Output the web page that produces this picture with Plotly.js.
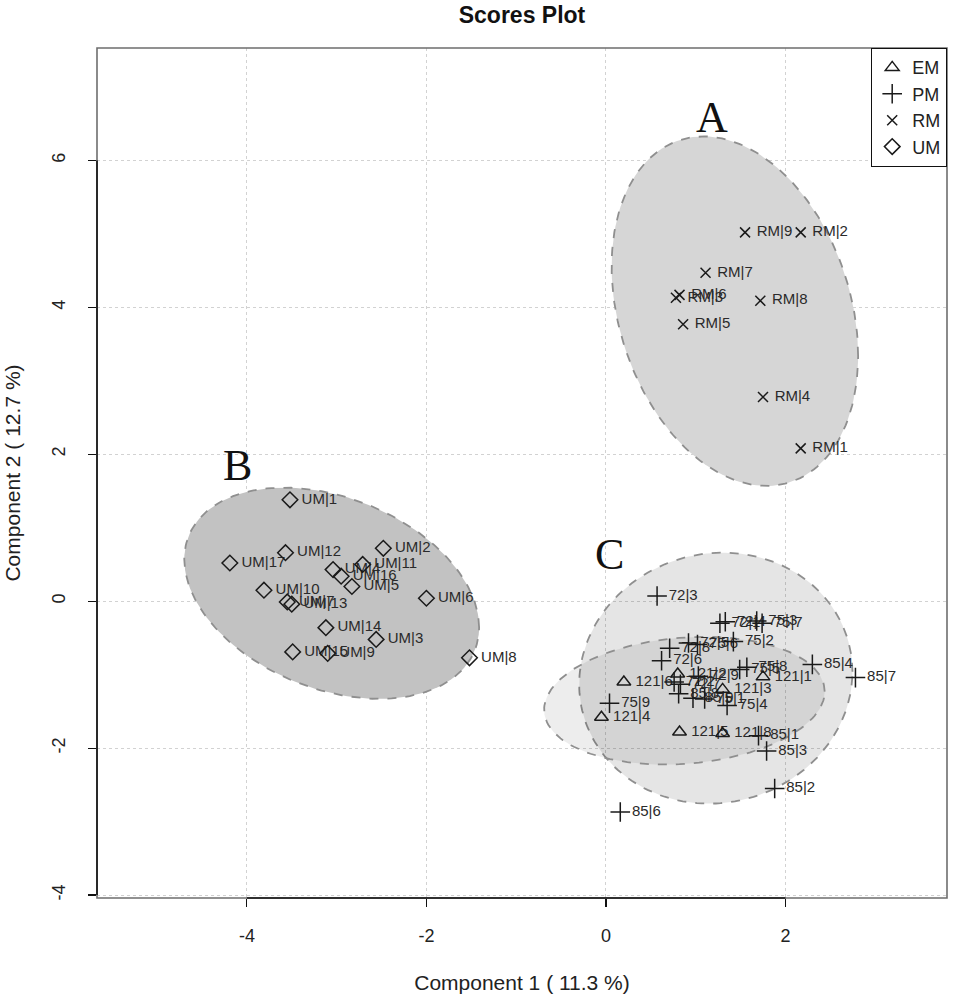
<!DOCTYPE html>
<html>
<head>
<meta charset="utf-8">
<script src="https://cdn.plot.ly/plotly-3.0.1.min.js"></script>
<style>
  html, body { margin: 0; padding: 0; background: #ffffff; }
  #chart { width: 955px; height: 1000px; }
</style>
</head>
<body>
<div id="chart"></div>
<script>
// PLS-DA scores, component 1 vs component 2, one array set per group.
const emLabels = ["121|1", "121|2", "121|3", "121|4", "121|5", "121|6", "121|8"];
const emX = [1.75, 0.80, 1.30, -0.05, 0.82, 0.20, 1.30];
const emY = [-1.03, -0.99, -1.20, -1.58, -1.78, -1.10, -1.80];

const pmLabels = ["72|3", "72|1", "72|4", "75|3", "75|7", "72|8", "72|5", "75|6", "75|2",
                  "72|6", "85|4", "85|7", "75|5", "75|8", "72|2", "72|7", "72|9", "85|8",
                  "85|9", "75|1", "75|4", "75|9", "85|1", "85|3", "85|2", "85|6"];
const pmX = [0.57, 1.27, 1.33, 1.68, 1.74, 0.71, 0.92, 1.02, 1.42,
             0.62, 2.30, 2.78, 1.49, 1.57, 0.76, 0.83, 1.03, 0.81,
             0.97, 1.10, 1.35, 0.04, 1.70, 1.79, 1.88, 0.16];
const pmY = [0.07, -0.30, -0.28, -0.27, -0.30, -0.64, -0.57, -0.59, -0.55,
             -0.81, -0.86, -1.04, -0.93, -0.90, -1.10, -1.13, -1.02, -1.26,
             -1.32, -1.33, -1.42, -1.39, -1.83, -2.04, -2.55, -2.87];

const rmLabels = ["RM|9", "RM|2", "RM|7", "RM|6", "RM|3", "RM|8", "RM|5", "RM|4", "RM|1"];
const rmX = [1.55, 2.17, 1.11, 0.82, 0.78, 1.72, 0.86, 1.75, 2.17];
const rmY = [5.02, 5.02, 4.47, 4.17, 4.13, 4.09, 3.77, 2.78, 2.08];

const umLabels = ["UM|1", "UM|2", "UM|12", "UM|17", "UM|11", "UM|4", "UM|16", "UM|5", "UM|10",
                  "UM|7", "UM|13", "UM|6", "UM|14", "UM|3", "UM|15", "UM|9", "UM|8"];
const umX = [-3.52, -2.48, -3.57, -4.19, -2.71, -3.04, -2.95, -2.83, -3.81,
             -3.55, -3.50, -2.00, -3.12, -2.56, -3.49, -3.10, -1.52];
const umY = [1.38, 0.72, 0.66, 0.52, 0.50, 0.43, 0.34, 0.20, 0.15,
             -0.01, -0.04, 0.04, -0.36, -0.52, -0.69, -0.71, -0.77];

const xTicks = [-4, -2, 0, 2];
const yTicks = [-4, -2, 0, 2, 4, 6];

// 95% normal confidence ellipse (chi-square, 2 df) around each group's scores
const CHI2_95 = 5.991;
function confidenceEllipse(xs, ys) {
  const n = xs.length;
  const mx = xs.reduce((a, b) => a + b, 0) / n;
  const my = ys.reduce((a, b) => a + b, 0) / n;
  let sxx = 0, syy = 0, sxy = 0;
  for (let i = 0; i < n; i++) {
    const dx = xs[i] - mx, dy = ys[i] - my;
    sxx += dx * dx; syy += dy * dy; sxy += dx * dy;
  }
  sxx /= (n - 1); syy /= (n - 1); sxy /= (n - 1);
  // Cholesky factor of the covariance matrix
  const a = Math.sqrt(sxx);
  const b = sxy / a;
  const c = Math.sqrt(syy - b * b);
  const r = Math.sqrt(CHI2_95);
  const ex = [], ey = [];
  for (let k = 0; k <= 180; k++) {
    const t = 2 * Math.PI * k / 180;
    const u = Math.cos(t), v = Math.sin(t);
    ex.push(mx + r * a * u);
    ey.push(my + r * (b * u + c * v));
  }
  return { x: ex, y: ey };
}

function ellipseTrace(xs, ys, fill) {
  const e = confidenceEllipse(xs, ys);
  return {
    type: "scatter", mode: "lines", x: e.x, y: e.y,
    fill: "toself", fillcolor: fill,
    line: { color: "#8f8f8f", width: 1.8, dash: "dash" },
    hoverinfo: "skip", showlegend: false
  };
}

const ink = "#1a1a1a";
function markerTrace(name, xs, ys, symbol, size) {
  return {
    type: "scatter", mode: "markers", name: name, x: xs, y: ys,
    marker: { symbol: symbol, size: size, color: ink, line: { color: ink, width: 1.5 } }
  };
}
function labelTrace(xs, ys, labels) {
  // invisible markers keep the sample names clear of the symbols
  return {
    type: "scatter", mode: "markers+text", x: xs, y: ys, text: labels,
    textposition: "middle right",
    textfont: { family: "Liberation Sans, Arial, sans-serif", size: 15, color: "#2a2a2a" },
    marker: { size: 17, opacity: 0 },
    hoverinfo: "skip", showlegend: false
  };
}

const traces = [
  ellipseTrace(rmX, rmY, "#d6d6d6"),
  ellipseTrace(umX, umY, "#c2c2c2"),
  ellipseTrace(pmX, pmY, "rgba(0,0,0,0.10)"),
  ellipseTrace(emX, emY, "rgba(0,0,0,0.07)"),
  labelTrace(emX, emY, emLabels),
  labelTrace(pmX, pmY, pmLabels),
  labelTrace(rmX, rmY, rmLabels),
  labelTrace(umX, umY, umLabels),
  markerTrace("EM", emX, emY, "triangle-up-open", 12),
  markerTrace("PM", pmX, pmY, "cross-thin-open", 14),
  markerTrace("RM", rmX, rmY, "x-thin-open", 10),
  markerTrace("UM", umX, umY, "diamond-open", 12)
];

const tickFont = { family: "Liberation Sans Narrow, Liberation Sans, Arial, sans-serif", size: 18, color: "#222" };
const titleFont = { family: "Liberation Sans Narrow, Liberation Sans, Arial, sans-serif", size: 21, color: "#222" };
const groupFont = { family: "Liberation Serif, Times New Roman, serif", size: 44, color: "#111" };

const layout = {
  width: 955, height: 1000,
  margin: { l: 97, r: 8, t: 48, b: 102 },
  paper_bgcolor: "#ffffff", plot_bgcolor: "#ffffff",
  title: {
    text: "<b>Scores Plot</b>",
    font: { family: "Liberation Sans Narrow, Liberation Sans, Arial, sans-serif", size: 23, color: "#111" },
    xref: "paper", x: 0.5, xanchor: "center",
    yref: "container", y: 0.985, yanchor: "middle"
  },
  xaxis: {
    range: [-5.67, 3.80], tickvals: xTicks, ticktext: xTicks.map(String),
    showgrid: true, gridcolor: "#d2d2d2", griddash: "dot", gridwidth: 1,
    zeroline: false, showline: false,
    ticks: "outside", ticklen: 8, tickcolor: "#111", tickwidth: 1.2,
    ticklabelstandoff: 13, tickfont: tickFont,
    title: { text: "Component 1 ( 11.3 %)", font: titleFont, standoff: 30 },
    automargin: false
  },
  yaxis: {
    range: [-4.04, 7.53], tickvals: yTicks, ticktext: yTicks.map(String),
    showgrid: true, gridcolor: "#d2d2d2", griddash: "dot", gridwidth: 1,
    zeroline: false, showline: false,
    ticks: "outside", ticklen: 8, tickcolor: "#111", tickwidth: 1.2,
    tickangle: -90, ticklabelstandoff: 16, tickfont: tickFont,
    title: { text: "Component 2 ( 12.7 %)", font: titleFont, standoff: 22 },
    automargin: false
  },
  shapes: [
    { type: "rect", xref: "paper", yref: "paper", x0: 0, x1: 1, y0: 0, y1: 1,
      line: { color: "#6e6e6e", width: 1.6 }, fillcolor: "rgba(0,0,0,0)" },
    { type: "line", xref: "x", yref: "paper", x0: xTicks[0], x1: xTicks[xTicks.length - 1], y0: 0, y1: 0,
      line: { color: "#111", width: 1.6 } },
    { type: "line", xref: "paper", yref: "y", x0: 0, x1: 0, y0: yTicks[0], y1: yTicks[yTicks.length - 1],
      line: { color: "#111", width: 1.6 } }
  ],
  annotations: [
    { text: "A", x: 1.18, y: 6.58, xref: "x", yref: "y", showarrow: false, font: groupFont },
    { text: "B", x: -4.10, y: 1.85, xref: "x", yref: "y", showarrow: false, font: groupFont },
    { text: "C", x: 0.04, y: 0.63, xref: "x", yref: "y", showarrow: false, font: groupFont }
  ],
  legend: {
    x: 1, y: 1, xanchor: "right", yanchor: "top",
    bgcolor: "#ffffff", bordercolor: "#111", borderwidth: 1.2,
    font: { family: "Liberation Sans, Arial, sans-serif", size: 18, color: "#222" },
    itemwidth: 30, tracegroupgap: 0
  },
  showlegend: true
};

Plotly.newPlot("chart", traces, layout, { displayModeBar: false, staticPlot: true });
</script>
</body>
</html>
